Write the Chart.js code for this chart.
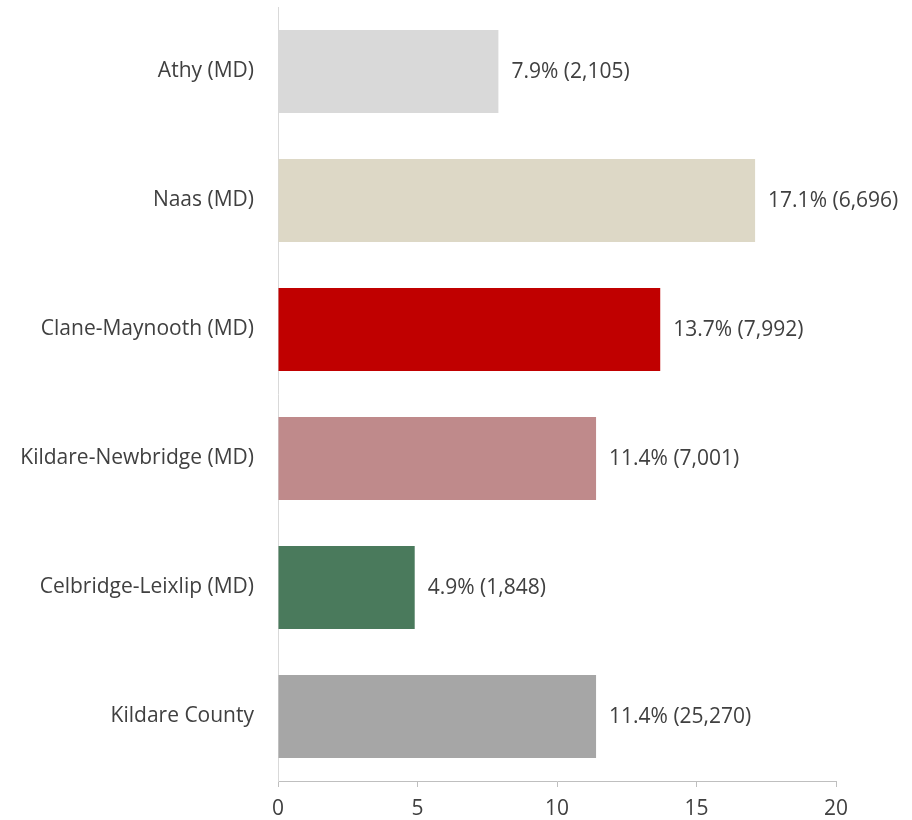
<!DOCTYPE html>
<html>
<head>
<meta charset="utf-8">
<script src="https://cdn.jsdelivr.net/npm/chart.js@4/dist/chart.umd.min.js"></script>
<style>
    html, body { margin: 0; padding: 0; background: #fff; }
    #wrap { width: 912px; height: 820px; }
</style>
</head>
<body>
<div id="wrap"><canvas id="chart"></canvas></div>
<script>
// municipal districts, top to bottom
var districts = ['Athy (MD)', 'Naas (MD)', 'Clane-Maynooth (MD)', 'Kildare-Newbridge (MD)', 'Celbridge-Leixlip (MD)', 'Kildare County'];
var percents = [7.9, 17.1, 13.7, 11.4, 4.9, 11.4];
var counts = ['2,105', '6,696', '7,992', '7,001', '1,848', '25,270'];
var barColours = ['#d9d9d9', '#ddd8c6', '#c00000', '#bf8a8b', '#4a7a5c', '#a6a6a6'];
var xTicks = [0, 5, 10, 15, 20];

var FONT = '"Open Sans", "Noto Sans", sans-serif';
var FONT_SIZE = 21;
var TEXT = '#404040';

// value labels to the right of each bar
var valueLabels = {
    id: 'valueLabels',
    afterDatasetsDraw: function (chart) {
        var ctx = chart.ctx, meta = chart.getDatasetMeta(0), i, bar;
        ctx.save();
        ctx.font = FONT_SIZE + 'px ' + FONT;
        ctx.fillStyle = TEXT;
        ctx.textAlign = 'left';
        ctx.textBaseline = 'middle';
        for (i = 0; i < meta.data.length; i++) {
            bar = meta.data[i];
            ctx.fillText(percents[i].toFixed(1) + '% (' + counts[i] + ')', bar.x + 13, bar.y + 1);
        }
        ctx.restore();
    }
};

new Chart(document.getElementById('chart'), {
    type: 'bar',
    data: {
        labels: districts,
        datasets: [{
            data: percents,
            backgroundColor: barColours,
            borderWidth: 0,
            categoryPercentage: 0.645,
            barPercentage: 1
        }]
    },
    options: {
        indexAxis: 'y',
        responsive: true,
        maintainAspectRatio: false,
        animation: false,
        layout: { padding: { top: 7, right: 76, bottom: 0, left: 0 } },
        plugins: { legend: { display: false }, tooltip: { enabled: false } },
        scales: {
            x: {
                min: 0,
                max: 20,
                afterBuildTicks: function (scale) {
                    scale.ticks = xTicks.map(function (v) { return { value: v }; });
                },
                afterFit: function (scale) {
                    scale.height = 39;
                    scale.paddingLeft = 0;
                    scale.paddingRight = 0;
                },
                grid: { drawOnChartArea: false, drawTicks: true, tickLength: 6, color: '#bfbfbf' },
                border: { color: '#bfbfbf', width: 1 },
                ticks: { padding: 9, color: TEXT, font: { family: FONT, size: FONT_SIZE } }
            },
            y: {
                afterFit: function (scale) {
                    scale.width = 278;
                    scale.paddingTop = 0;
                    scale.paddingBottom = 0;
                },
                grid: { drawOnChartArea: false, drawTicks: false },
                border: { color: '#d9d9d9', width: 1 },
                ticks: { padding: 24, color: TEXT, font: { family: FONT, size: FONT_SIZE } }
            }
        }
    },
    plugins: [valueLabels]
});
</script>
</body>
</html>
